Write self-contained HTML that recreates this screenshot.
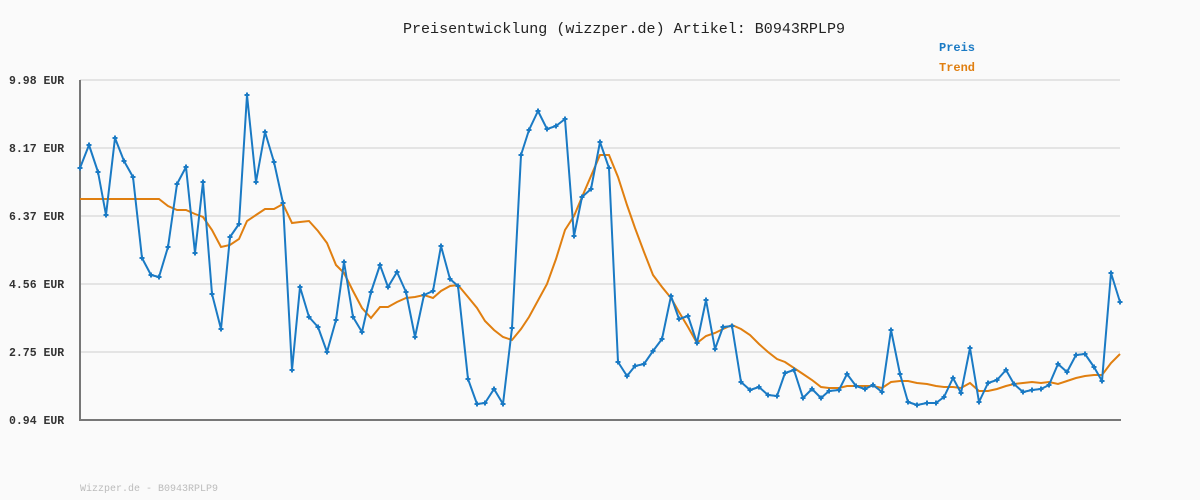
<!DOCTYPE html>
<html><head><meta charset="utf-8"><style>
html,body{margin:0;padding:0;background:#fafafa;}
svg{display:block;}
text{font-family:"Liberation Mono","DejaVu Sans Mono",monospace;}
</style></head><body>
<svg width="1200" height="500" viewBox="0 0 1200 500" xmlns="http://www.w3.org/2000/svg">
<defs>
<marker id="dot" markerUnits="userSpaceOnUse" markerWidth="6" markerHeight="6" refX="3" refY="3" viewBox="0 0 6 6">
<path d="M3 0.5 L3 5.5 M0.5 3 L5.5 3" stroke="#1a7ac4" stroke-width="2"/>
</marker>
</defs>
<rect width="1200" height="500" fill="#fafafa"/>
<text x="403" y="33" font-size="15" fill="#222" textLength="442" lengthAdjust="spacingAndGlyphs">Preisentwicklung (wizzper.de) Artikel: B0943RPLP9</text>
<text x="939" y="51" font-size="12" font-weight="bold" fill="#1a7ac4">Preis</text>
<text x="939" y="71" font-size="12" font-weight="bold" fill="#e07f10">Trend</text>
<g stroke="#e4e4e4" stroke-width="2">
<line x1="80" y1="80" x2="1120" y2="80"/><line x1="80" y1="148" x2="1120" y2="148"/><line x1="80" y1="216" x2="1120" y2="216"/><line x1="80" y1="284" x2="1120" y2="284"/><line x1="80" y1="352" x2="1120" y2="352"/>
</g>
<g font-size="11.5" font-weight="bold" fill="#333">
<text x="9" y="84">9.98 EUR</text><text x="9" y="152">8.17 EUR</text><text x="9" y="220">6.37 EUR</text><text x="9" y="288">4.56 EUR</text><text x="9" y="356">2.75 EUR</text><text x="9" y="424">0.94 EUR</text>
</g>
<line x1="80" y1="80" x2="80" y2="421" stroke="#777" stroke-width="2"/>
<line x1="79" y1="420" x2="1121" y2="420" stroke="#777" stroke-width="2"/>
<polyline fill="none" stroke="#e07f10" stroke-width="2" points="80,199 159,199 168,206 177,210 186,210 195,214 203,217 212,230 221,247 230,245 239,239 247,221 256,215 265,209 274,209 283,204 292,223 300,222 309,221 318,231 327,243 336,265 344,273 353,291 362,308 371,318 380,307 388,307 397,302 406,298 415,297 424,295 433,298 441,291 450,286 458,285 468,297 477,308 485,321 494,330 503,337 512,340 521,329 529,317 547,284 556,259 565,230 574,216 582,197 591,176 600,155 609,155 618,177 627,205 635,228 644,252 653,275 662,287 671,298 679,312 688,327 697,343 706,336 715,333 723,329 732,325 741,329 750,335 759,344 768,352 777,359 785,362 794,368 803,374 812,380 821,387 829,388 839,388 847,386 856,386 865,386 873,386 882,388 891,382 900,381 908,381 917,383 927,384 936,386 944,387 953,387 961,388 970,383 979,391 988,391 997,389 1006,386 1014,384 1023,383 1032,382 1041,383 1049,382 1058,384 1067,381 1076,378 1085,376 1094,375 1102,375 1111,363 1120,354"/>
<polyline fill="none" stroke="#1a7ac4" stroke-width="2" stroke-linejoin="round" marker-start="url(#dot)" marker-mid="url(#dot)" marker-end="url(#dot)" points="80,168 89,145 98,172 106,215 115,138 124,161 133,177 142,258 151,275 159,277 168,247 177,184 186,167 195,253 203,182 212,294 221,329 230,237 239,224 247,95 256,182 265,132 274,162 283,203 292,370 300,287 309,317 318,327 327,352 336,320 344,262 353,317 362,332 371,292 380,265 388,287 397,272 406,292 415,337 424,295 433,291 441,246 450,279 458,286 468,379 477,404 485,403 494,389 503,404 512,328 521,155 529,130 538,111 547,129 556,126 565,119 574,236 582,197 591,189 600,142 609,168 618,362 627,376 635,366 644,364 653,351 662,339 671,296 679,319 688,316 697,343 706,300 715,349 723,327 732,326 741,382 750,390 759,387 768,395 777,396 785,373 794,370 803,398 812,389 821,398 829,391 839,390 847,374 856,386 865,389 873,385 882,392 891,330 900,374 908,402 917,405 927,403 936,403 944,397 953,378 961,393 970,348 979,402 988,383 997,380 1006,370 1014,384 1023,392 1032,390 1041,389 1049,385 1058,364 1067,372 1076,355 1085,354 1094,367 1102,381 1111,273 1120,302"/>
<text x="80" y="491" font-size="10.5" fill="#bbb" textLength="138" lengthAdjust="spacingAndGlyphs">Wizzper.de - B0943RPLP9</text>
</svg>
</body></html>
